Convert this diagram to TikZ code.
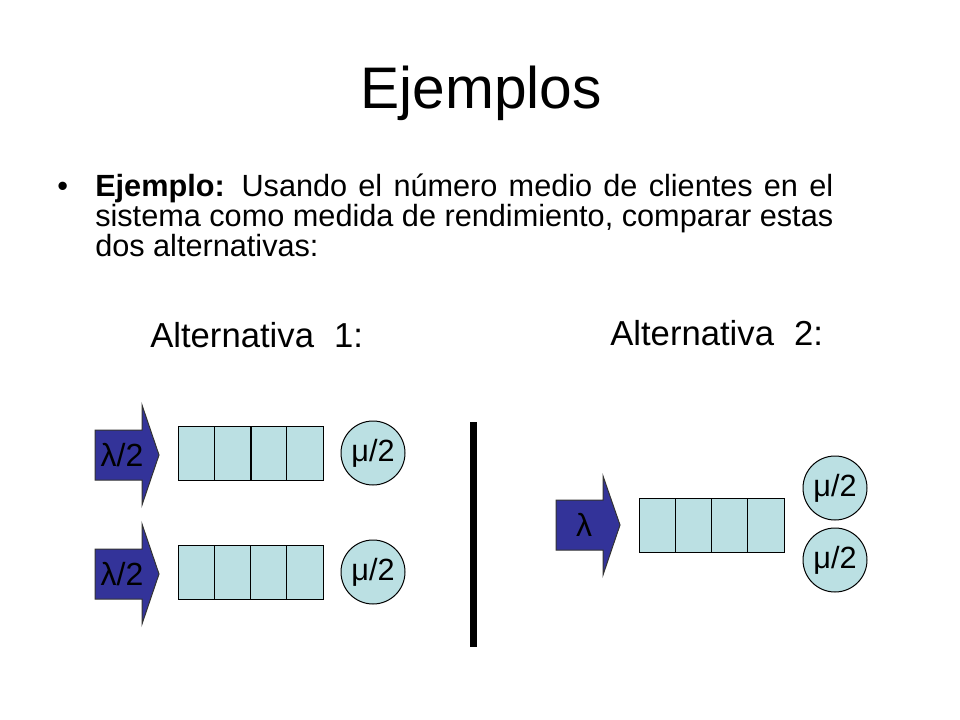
\documentclass[tikz,border=0pt]{standalone}
\usepackage{fontspec}
\setmainfont{Liberation Sans}
\usetikzlibrary{positioning}
\definecolor{arrowblue}{RGB}{51,51,153}
\definecolor{queuecyan}{RGB}{187,224,227}

\begin{document}
\begin{tikzpicture}[x=0.75pt,y=-0.75pt,
    cellbox/.style={draw=black,fill=queuecyan,line width=0.75pt},
    server/.style={circle,draw=black,fill=queuecyan,line width=0.75pt,minimum size=48pt,inner sep=0pt,font=\fontsize{23}{23}\selectfont},
    arrowbox/.style={draw=black!80,fill=arrowblue,line width=0.75pt},
    arrowtext/.style={font=\fontsize{24}{24}\selectfont},
    bodytext/.style={anchor=base west,inner sep=0pt,font=\fontsize{23}{20.25}\selectfont},
    alttext/.style={anchor=base west,inner sep=0pt,font=\fontsize{26}{26}\selectfont}]
    \useasboundingbox (0,0) rectangle (960,720);

    % titulo y texto
    \node[anchor=base,inner sep=0pt,font=\fontsize{44}{44}\selectfont] (title) at (481,109) {Ejemplos};
    \node[bodytext] (dot) at (57,197) {•};
    \node[bodytext,text width=553.5pt,align=justify] (bullet) at (95,197)
        {\lineskiplimit=-60pt\textbf{Ejemplo:} Usando el número medio de clientes en el\linebreak
        sistema como medida de rendimiento, comparar estas\linebreak
        dos alternativas:};
    \node[alttext] (alt1) at (150,347) {Alternativa\hspace{0.3em} 1:};
    \node[alttext] (alt2) at (610,345) {Alternativa\hspace{0.3em} 2:};

    % alternativa 1: dos colas
    \foreach \r [count=\k] in {453,572} {
        \draw[arrowbox] (95,\r-23) -- (142,\r-23) -- (142,\r-48) -- (159,\r+2)
            -- (142,\r+52) -- (142,\r+27) -- (95,\r+27) -- cycle;
        \node[arrowtext] (lam\k) at (122,\r+2) {λ/2};
        \foreach \i in {0,...,3}
            \draw[cellbox] (178+\i*36.25,\r-27) rectangle ++(36.25,54);
        \node[server] (mu\k) at (373,\r) {μ/2};
    }
    \draw[line width=1.5pt] (250.5,426) -- (250.5,480);

    % separador
    \fill (470,422) rectangle (477,647);

    % alternativa 2: una cola, dos servidores
    \draw[arrowbox] (556,500) -- (603,500) -- (603,476) -- (620,525)
        -- (603,575) -- (603,550) -- (556,550) -- cycle;
    \node[arrowtext] (lam) at (584,525) {λ};
    \foreach \i in {0,...,3}
        \draw[cellbox] (639+\i*36.25,498) rectangle ++(36.25,54);
    \node[server] (mutop) at (835,488) {μ/2};
    \node[server] (mubot) at (835,560) {μ/2};
\end{tikzpicture}
\end{document}
